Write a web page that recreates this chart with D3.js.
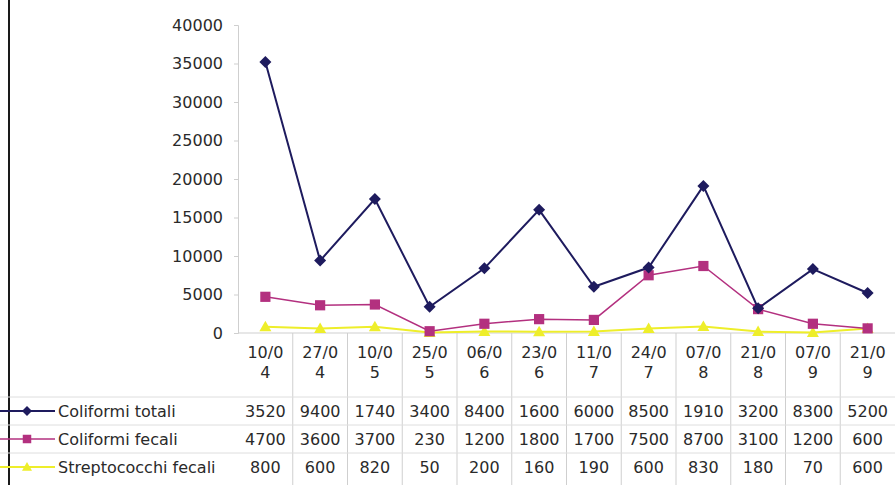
<!DOCTYPE html>
<html><head><meta charset="utf-8">
<script src="https://cdn.jsdelivr.net/npm/d3@7"></script>
<style>
html,body{margin:0;padding:0;background:#fff;}
svg{display:block;font-family:"DejaVu Sans",Verdana,sans-serif;}
</style></head>
<body>
<svg id="chart" width="895" height="485"></svg>
<script>
const categories = ["10/04","27/04","10/05","25/05","06/06","23/06","11/07","24/07","07/08","21/08","07/09","21/09"];
const seriesNames = ["Coliformi totali","Coliformi fecali","Streptococchi fecali"];
const colTotali = [35200,9400,17400,3400,8400,16000,6000,8500,19100,3200,8300,5200];
const colFecali = [4700,3600,3700,230,1200,1800,1700,7500,8700,3100,1200,600];
const strepFecali = [800,600,820,50,200,160,190,600,830,180,70,600];
const tableTotali = ["3520","9400","1740","3400","8400","1600","6000","8500","1910","3200","8300","5200"];
const tableFecali = ["4700","3600","3700","230","1200","1800","1700","7500","8700","3100","1200","600"];
const tableStrep = ["800","600","820","50","200","160","190","600","830","180","70","600"];
const yTicks = [0,5000,10000,15000,20000,25000,30000,35000,40000];

(function () {
const series = [
  {name: seriesNames[0], values: colTotali, labels: tableTotali, color: "#1e1b5e", marker: "diamond", width: 2},
  {name: seriesNames[1], values: colFecali, labels: tableFecali, color: "#b3307f", marker: "square", width: 1.5},
  {name: seriesNames[2], values: strepFecali, labels: tableStrep, color: "#eeee2a", marker: "triangle", width: 2}
];

const svg = d3.select("#chart");
const W = 895, H = 485;
const pLeft = 238, pRight = 895, pTop = 25, pBase = 333;

const x = d3.scaleBand().domain(categories).range([pLeft, pRight]).padding(0);
const y = d3.scaleLinear().domain([0, 40000]).range([pBase, pTop]);
const cx = d => x(d) + x.bandwidth() / 2;

const gridColor = "#cfcfcf";
const fontSize = 16;
const textColor = "#2a2a2a";
const fontFam = "DejaVu Sans, Verdana, sans-serif";

// left border
svg.append("line").attr("x1", 9).attr("x2", 9).attr("y1", 0).attr("y2", H)
  .attr("stroke", "#1a1a1a").attr("stroke-width", 2);

// y axis
const yAxis = d3.axisLeft(y).tickValues(yTicks).tickSize(4).tickPadding(11).tickFormat(d3.format("d"));
const ya = svg.append("g").attr("transform", `translate(${pLeft},0)`).call(yAxis);
ya.select(".domain").attr("stroke", gridColor);
ya.selectAll(".tick line").attr("stroke", gridColor);
ya.selectAll(".tick text").attr("font-size", fontSize).attr("fill", textColor)
  .attr("font-family", fontFam);

// baseline
svg.append("line").attr("x1", pLeft).attr("x2", pRight).attr("y1", pBase).attr("y2", pBase)
  .attr("stroke", gridColor);

// table vertical lines
const bounds = categories.slice(1).map(c => x(c));
svg.append("g").selectAll("line").data(bounds).join("line")
  .attr("x1", d => d).attr("x2", d => d).attr("y1", pBase).attr("y2", H)
  .attr("stroke", gridColor);

// table horizontal lines
const rowLines = [397, 425, 453];
svg.append("g").selectAll("line").data(rowLines).join("line")
  .attr("x1", 0).attr("x2", W).attr("y1", d => d).attr("y2", d => d)
  .attr("stroke", "#dedede");

// category labels (wrapped)
const catG = svg.append("g").attr("font-size", fontSize).attr("fill", textColor).attr("text-anchor", "middle");
categories.forEach(c => {
  catG.append("text").attr("x", cx(c)).attr("y", 358).text(c.slice(0, 4));
  catG.append("text").attr("x", cx(c)).attr("y", 378).text(c.slice(4));
});

function markerPath(type, s) {
  if (type === "diamond") return `M0,${-s}L${s},0L0,${s}L${-s},0Z`;
  if (type === "square") return `M${-s*0.85},${-s*0.85}H${s*0.85}V${s*0.85}H${-s*0.85}Z`;
  return `M0,${-s}L${s},${s*0.75}L${-s},${s*0.75}Z`;
}

const line = d3.line().x((d, i) => cx(categories[i])).y(d => y(d));
[...series].reverse().forEach(s => {
  svg.append("path").datum(s.values).attr("d", line)
    .attr("fill", "none").attr("stroke", s.color).attr("stroke-width", s.width);
  svg.append("g").selectAll("path").data(s.values).join("path")
    .attr("transform", (d, i) => `translate(${cx(categories[i])},${y(d)})`)
    .attr("d", markerPath(s.marker, 6))
    .attr("fill", s.color);
});

// table rows
const rowY = [417, 445, 473];
series.forEach((s, r) => {
  const ry = rowY[r] - 6;
  svg.append("line").attr("x1", 0).attr("x2", 55).attr("y1", ry).attr("y2", ry)
    .attr("stroke", s.color).attr("stroke-width", s.width);
  svg.append("path").attr("transform", `translate(27,${ry})`)
    .attr("d", markerPath(s.marker, 5)).attr("fill", s.color);
  svg.append("text").attr("x", 58).attr("y", rowY[r]).attr("font-size", fontSize)
    .attr("fill", textColor).text(s.name);
  svg.append("g").selectAll("text").data(s.labels).join("text")
    .attr("x", (d, i) => cx(categories[i])).attr("y", rowY[r])
    .attr("text-anchor", "middle").attr("font-size", fontSize).attr("fill", textColor)
    .text(d => d);
});
})();
</script>
</body></html>
